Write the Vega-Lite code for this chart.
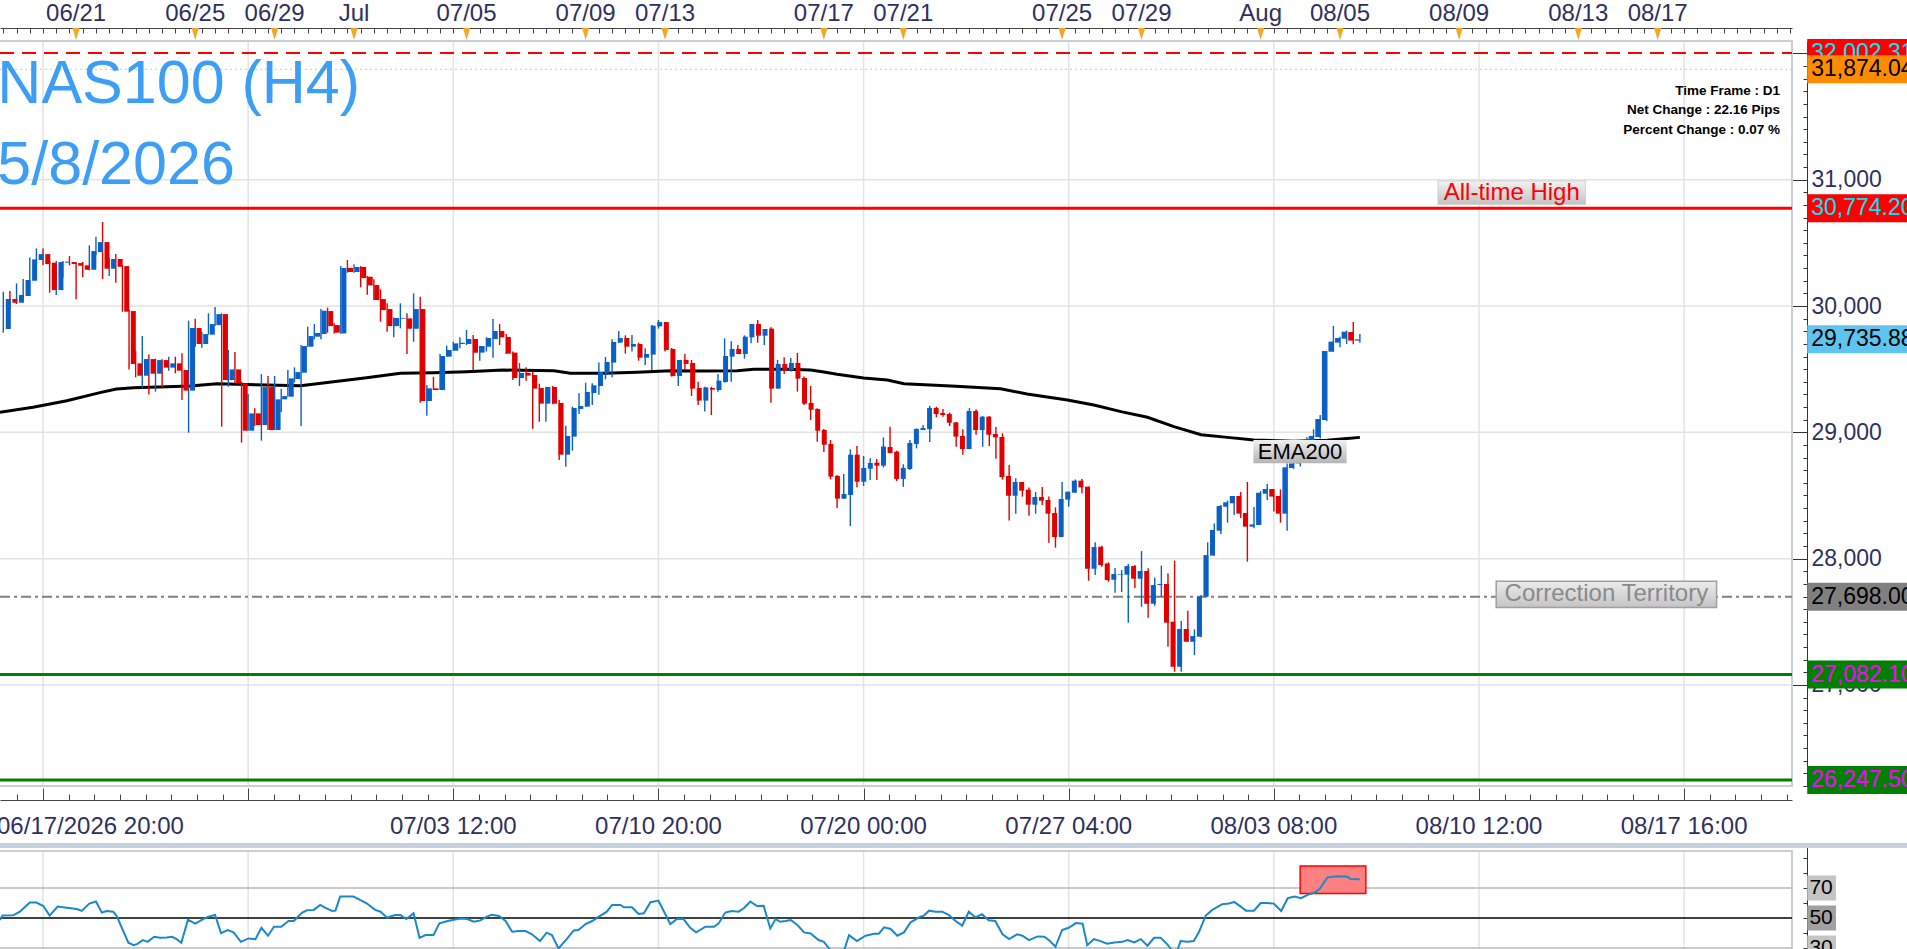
{
  "$schema": "https://vega.github.io/schema/vega-lite/v6.json",
  "width": 1792,
  "height": 745,
  "autosize": {"type": "none"},
  "padding": {"left": 0, "top": 41, "right": 115, "bottom": 163},
  "background": "#ffffff",
  "datasets": {
    "one": [{}],
    "candles": [
      {"i":0,"o":29818,"h":30113,"l":29789,"c":30055},{"i":1,"o":30055,"h":30119,"l":29968,"c":30026},
      {"i":2,"o":30026,"h":30179,"l":30016,"c":30087},{"i":3,"o":30079,"h":30214,"l":30053,"c":30206},
      {"i":4,"o":30200,"h":30385,"l":30079,"c":30369},{"i":5,"o":30364,"h":30456,"l":30332,"c":30411},
      {"i":6,"o":30411,"h":30456,"l":30324,"c":30332},{"i":7,"o":30343,"h":30356,"l":30105,"c":30126},
      {"i":8,"o":30126,"h":30356,"l":30087,"c":30348},{"i":9,"o":30343,"h":30356,"l":30224,"c":30351},
      {"i":10,"o":30348,"h":30396,"l":30322,"c":30332},{"i":11,"o":30340,"h":30343,"l":30053,"c":30319},
      {"i":12,"o":30322,"h":30348,"l":30227,"c":30287},{"i":13,"o":30287,"h":30480,"l":30282,"c":30435},
      {"i":14,"o":30427,"h":30549,"l":30404,"c":30506},{"i":15,"o":30506,"h":30665,"l":30214,"c":30295},
      {"i":16,"o":30295,"h":30382,"l":30237,"c":30372},{"i":17,"o":30372,"h":30411,"l":30185,"c":30311},
      {"i":18,"o":30316,"h":30324,"l":29955,"c":29955},{"i":19,"o":29960,"h":29973,"l":29498,"c":29541},
      {"i":20,"o":29546,"h":29644,"l":29435,"c":29448},{"i":21,"o":29448,"h":29762,"l":29348,"c":29580},
      {"i":22,"o":29580,"h":29617,"l":29300,"c":29464},{"i":23,"o":29464,"h":29583,"l":29322,"c":29572},
      {"i":24,"o":29572,"h":29578,"l":29356,"c":29512},{"i":25,"o":29512,"h":29599,"l":29488,"c":29546},
      {"i":26,"o":29546,"h":29599,"l":29467,"c":29488},{"i":27,"o":29493,"h":29625,"l":29256,"c":29330},
      {"i":28,"o":29330,"h":29884,"l":28997,"c":29826},{"i":29,"o":29826,"h":29900,"l":29678,"c":29699},
      {"i":30,"o":29699,"h":29797,"l":29670,"c":29778},{"i":31,"o":29773,"h":29942,"l":29773,"c":29857},
      {"i":32,"o":29849,"h":29992,"l":29841,"c":29936},{"i":33,"o":29936,"h":29942,"l":29044,"c":29414},
      {"i":34,"o":29414,"h":29652,"l":29361,"c":29498},{"i":35,"o":29498,"h":29636,"l":29388,"c":29388},
      {"i":36,"o":29388,"h":29401,"l":28918,"c":29013},{"i":37,"o":29013,"h":29303,"l":29013,"c":29150},
      {"i":38,"o":29150,"h":29190,"l":29050,"c":29058},{"i":39,"o":29058,"h":29461,"l":28934,"c":29358},
      {"i":40,"o":29358,"h":29446,"l":29018,"c":29018},{"i":41,"o":29018,"h":29446,"l":29018,"c":29261},
      {"i":42,"o":29261,"h":29345,"l":29161,"c":29287},{"i":43,"o":29282,"h":29493,"l":29282,"c":29427},
      {"i":44,"o":29422,"h":29514,"l":29395,"c":29477},{"i":45,"o":29472,"h":29691,"l":29050,"c":29683},
      {"i":46,"o":29678,"h":29836,"l":29678,"c":29762},{"i":47,"o":29757,"h":29857,"l":29736,"c":29786},
      {"i":48,"o":29778,"h":29976,"l":29736,"c":29963},{"i":49,"o":29960,"h":29987,"l":29789,"c":29841},
      {"i":50,"o":29849,"h":29863,"l":29783,"c":29789},{"i":51,"o":29783,"h":30316,"l":29778,"c":30301},
      {"i":52,"o":30301,"h":30364,"l":30264,"c":30269},{"i":53,"o":30269,"h":30330,"l":30264,"c":30309},
      {"i":54,"o":30309,"h":30316,"l":30148,"c":30221},{"i":55,"o":30232,"h":30237,"l":30090,"c":30163},
      {"i":56,"o":30166,"h":30211,"l":30047,"c":30047},{"i":57,"o":30055,"h":30132,"l":29876,"c":29968},
      {"i":58,"o":29976,"h":30021,"l":29797,"c":29841},{"i":59,"o":29841,"h":29910,"l":29752,"c":29905},
      {"i":60,"o":29900,"h":30021,"l":29823,"c":29905},{"i":61,"o":29902,"h":29942,"l":29620,"c":29820},
      {"i":62,"o":29820,"h":30100,"l":29717,"c":29976},{"i":63,"o":29976,"h":30074,"l":29235,"c":29248},
      {"i":64,"o":29248,"h":29374,"l":29132,"c":29348},{"i":65,"o":29348,"h":29440,"l":29335,"c":29335},
      {"i":66,"o":29335,"h":29620,"l":29335,"c":29604},{"i":67,"o":29599,"h":29686,"l":29599,"c":29652},
      {"i":68,"o":29646,"h":29717,"l":29646,"c":29704},{"i":69,"o":29699,"h":29752,"l":29665,"c":29709},
      {"i":70,"o":29699,"h":29810,"l":29691,"c":29739},{"i":71,"o":29739,"h":29770,"l":29493,"c":29630},
      {"i":72,"o":29631,"h":29683,"l":29567,"c":29683},{"i":73,"o":29678,"h":29752,"l":29639,"c":29747},
      {"i":74,"o":29739,"h":29897,"l":29591,"c":29802},{"i":75,"o":29802,"h":29858,"l":29691,"c":29752},
      {"i":76,"o":29755,"h":29778,"l":29620,"c":29623},{"i":77,"o":29631,"h":29639,"l":29414,"c":29430},
      {"i":78,"o":29430,"h":29549,"l":29367,"c":29470},{"i":79,"o":29470,"h":29515,"l":29409,"c":29449},
      {"i":80,"o":29454,"h":29480,"l":29029,"c":29346},{"i":81,"o":29351,"h":29385,"l":29084,"c":29227},
      {"i":82,"o":29227,"h":29359,"l":29084,"c":29359},{"i":83,"o":29359,"h":29367,"l":29222,"c":29227},
      {"i":84,"o":29232,"h":29256,"l":28781,"c":28823},{"i":85,"o":28823,"h":29053,"l":28728,"c":28971},
      {"i":86,"o":28966,"h":29203,"l":28855,"c":29193},{"i":87,"o":29185,"h":29309,"l":29145,"c":29208},
      {"i":88,"o":29203,"h":29393,"l":29203,"c":29319},{"i":89,"o":29311,"h":29388,"l":29216,"c":29372},
      {"i":90,"o":29367,"h":29552,"l":29298,"c":29478},{"i":91,"o":29467,"h":29596,"l":29420,"c":29557},
      {"i":92,"o":29552,"h":29736,"l":29435,"c":29715},{"i":93,"o":29710,"h":29802,"l":29710,"c":29747},
      {"i":94,"o":29747,"h":29768,"l":29623,"c":29678},{"i":95,"o":29678,"h":29771,"l":29639,"c":29699},
      {"i":96,"o":29699,"h":29710,"l":29567,"c":29591},{"i":97,"o":29591,"h":29665,"l":29533,"c":29620},
      {"i":98,"o":29615,"h":29850,"l":29493,"c":29844},{"i":99,"o":29839,"h":29889,"l":29821,"c":29873},
      {"i":100,"o":29873,"h":29873,"l":29639,"c":29652},{"i":101,"o":29660,"h":29668,"l":29441,"c":29446},
      {"i":102,"o":29446,"h":29573,"l":29367,"c":29573},{"i":103,"o":29573,"h":29620,"l":29493,"c":29541},
      {"i":104,"o":29549,"h":29573,"l":29288,"c":29346},{"i":105,"o":29351,"h":29401,"l":29216,"c":29251},
      {"i":106,"o":29251,"h":29361,"l":29164,"c":29356},{"i":107,"o":29351,"h":29361,"l":29137,"c":29338},
      {"i":108,"o":29335,"h":29462,"l":29322,"c":29409},{"i":109,"o":29398,"h":29744,"l":29393,"c":29604},
      {"i":110,"o":29599,"h":29720,"l":29401,"c":29660},{"i":111,"o":29660,"h":29691,"l":29620,"c":29620},
      {"i":112,"o":29620,"h":29768,"l":29583,"c":29757},{"i":113,"o":29752,"h":29858,"l":29705,"c":29858},
      {"i":114,"o":29858,"h":29889,"l":29710,"c":29765},{"i":115,"o":29765,"h":29818,"l":29691,"c":29818},
      {"i":116,"o":29821,"h":29831,"l":29235,"c":29346},{"i":117,"o":29346,"h":29573,"l":29346,"c":29541},
      {"i":118,"o":29541,"h":29594,"l":29462,"c":29493},{"i":119,"o":29493,"h":29588,"l":29480,"c":29549},
      {"i":120,"o":29549,"h":29628,"l":29322,"c":29425},{"i":121,"o":29430,"h":29441,"l":29216,"c":29227},
      {"i":122,"o":29232,"h":29367,"l":29098,"c":29179},{"i":123,"o":29185,"h":29190,"l":28926,"c":29013},
      {"i":124,"o":29018,"h":29026,"l":28844,"c":28902},{"i":125,"o":28908,"h":28939,"l":28628,"c":28649},
      {"i":126,"o":28654,"h":28662,"l":28401,"c":28475},{"i":127,"o":28475,"h":28670,"l":28475,"c":28512},
      {"i":128,"o":28504,"h":28865,"l":28258,"c":28823},{"i":129,"o":28823,"h":28892,"l":28565,"c":28609},
      {"i":130,"o":28609,"h":28813,"l":28575,"c":28718},{"i":131,"o":28712,"h":28794,"l":28623,"c":28757},
      {"i":132,"o":28760,"h":28789,"l":28623,"c":28736},{"i":133,"o":28736,"h":28960,"l":28723,"c":28887},
      {"i":134,"o":28884,"h":29045,"l":28834,"c":28836},{"i":135,"o":28847,"h":28855,"l":28615,"c":28631},
      {"i":136,"o":28631,"h":28747,"l":28570,"c":28718},{"i":137,"o":28710,"h":28939,"l":28702,"c":28916},
      {"i":138,"o":28908,"h":29032,"l":28873,"c":29026},{"i":139,"o":29018,"h":29058,"l":29018,"c":29034},
      {"i":140,"o":29026,"h":29208,"l":28923,"c":29193},{"i":141,"o":29193,"h":29203,"l":29119,"c":29145},
      {"i":142,"o":29153,"h":29185,"l":29124,"c":29137},{"i":143,"o":29145,"h":29156,"l":29050,"c":29076},
      {"i":144,"o":29079,"h":29079,"l":28886,"c":28966},{"i":145,"o":28971,"h":29024,"l":28823,"c":28868},
      {"i":146,"o":28868,"h":29192,"l":28868,"c":29169},{"i":147,"o":29169,"h":29182,"l":28981,"c":29018},
      {"i":148,"o":29018,"h":29129,"l":28886,"c":29124},{"i":149,"o":29124,"h":29129,"l":28891,"c":28981},
      {"i":150,"o":28987,"h":29042,"l":28791,"c":28960},{"i":151,"o":28963,"h":28992,"l":28625,"c":28646},
      {"i":152,"o":28654,"h":28741,"l":28301,"c":28498},{"i":153,"o":28498,"h":28636,"l":28356,"c":28607},
      {"i":154,"o":28607,"h":28607,"l":28491,"c":28538},{"i":155,"o":28546,"h":28564,"l":28340,"c":28427},
      {"i":156,"o":28427,"h":28528,"l":28356,"c":28488},{"i":157,"o":28488,"h":28567,"l":28425,"c":28459},
      {"i":158,"o":28464,"h":28491,"l":28126,"c":28356},{"i":159,"o":28361,"h":28406,"l":28087,"c":28171},
      {"i":160,"o":28171,"h":28607,"l":28171,"c":28472},{"i":161,"o":28467,"h":28530,"l":28411,"c":28530},
      {"i":162,"o":28522,"h":28627,"l":28522,"c":28617},{"i":163,"o":28617,"h":28630,"l":28517,"c":28564},
      {"i":164,"o":28570,"h":28570,"l":27825,"c":27920},{"i":165,"o":27920,"h":28129,"l":27870,"c":28092},
      {"i":166,"o":28094,"h":28102,"l":27936,"c":27949},{"i":167,"o":27962,"h":27970,"l":27817,"c":27830},
      {"i":168,"o":27833,"h":27925,"l":27730,"c":27878},{"i":169,"o":27873,"h":27910,"l":27735,"c":27878},
      {"i":170,"o":27873,"h":27957,"l":27493,"c":27941},{"i":171,"o":27941,"h":27949,"l":27767,"c":27841},
      {"i":172,"o":27841,"h":28060,"l":27619,"c":27902},{"i":173,"o":27902,"h":27923,"l":27532,"c":27643},
      {"i":174,"o":27643,"h":27849,"l":27627,"c":27791},{"i":175,"o":27791,"h":27945,"l":27699,"c":27799},
      {"i":176,"o":27799,"h":27883,"l":27303,"c":27493},{"i":177,"o":27501,"h":27984,"l":27105,"c":27144},
      {"i":178,"o":27144,"h":27506,"l":27105,"c":27443},{"i":179,"o":27443,"h":27588,"l":27342,"c":27342},
      {"i":180,"o":27342,"h":27440,"l":27237,"c":27387},{"i":181,"o":27382,"h":27712,"l":27377,"c":27699},
      {"i":182,"o":27699,"h":28129,"l":27699,"c":28028},{"i":183,"o":28024,"h":28279,"l":28024,"c":28227},
      {"i":184,"o":28221,"h":28425,"l":28195,"c":28417},{"i":185,"o":28411,"h":28459,"l":28285,"c":28446},
      {"i":186,"o":28438,"h":28496,"l":28345,"c":28496},{"i":187,"o":28496,"h":28528,"l":28322,"c":28356},
      {"i":188,"o":28361,"h":28607,"l":27976,"c":28253},{"i":189,"o":28253,"h":28409,"l":28240,"c":28271},
      {"i":190,"o":28266,"h":28535,"l":28266,"c":28522},{"i":191,"o":28514,"h":28591,"l":28464,"c":28551},
      {"i":192,"o":28551,"h":28551,"l":28374,"c":28491},{"i":193,"o":28496,"h":28548,"l":28285,"c":28356},
      {"i":194,"o":28356,"h":28754,"l":28221,"c":28723},{"i":195,"o":28717,"h":28794,"l":28712,"c":28754},
      {"i":196,"o":28754,"h":28830,"l":28730,"c":28800},{"i":197,"o":28800,"h":28960,"l":28780,"c":28940},
      {"i":198,"o":28940,"h":29024,"l":28920,"c":28971},{"i":199,"o":28963,"h":29137,"l":28952,"c":29105},
      {"i":200,"o":29097,"h":29644,"l":29089,"c":29644},{"i":201,"o":29638,"h":29842,"l":29638,"c":29718},
      {"i":202,"o":29710,"h":29757,"l":29673,"c":29747},{"i":203,"o":29741,"h":29805,"l":29699,"c":29797},
      {"i":204,"o":29794,"h":29873,"l":29697,"c":29726},{"i":205,"o":29726,"h":29778,"l":29710,"c":29736}
    ],
    "ema": [
      {"i":-0.5,"v":29158},{"i":4.5,"v":29198},{"i":9.6,"v":29250},{"i":14.6,"v":29314},{"i":17.1,"v":29343},
      {"i":19.7,"v":29353},{"i":24.7,"v":29361},{"i":28.2,"v":29366},{"i":32.3,"v":29385},{"i":39.8,"v":29374},
      {"i":44.9,"v":29369},{"i":49.9,"v":29401},{"i":54.9,"v":29432},{"i":60,"v":29467},{"i":65,"v":29472},
      {"i":70,"v":29480},{"i":75.6,"v":29493},{"i":83.2,"v":29488},{"i":85.7,"v":29467},{"i":90.7,"v":29467},
      {"i":95.8,"v":29475},{"i":100.8,"v":29488},{"i":105.9,"v":29486},{"i":110.9,"v":29488},{"i":113.4,"v":29499},
      {"i":118.5,"v":29499},{"i":122,"v":29493},{"i":124,"v":29478},{"i":126,"v":29459},{"i":130,"v":29430},
      {"i":133.6,"v":29414},{"i":136.1,"v":29385},{"i":143.2,"v":29367},{"i":146.7,"v":29356},{"i":150.7,"v":29345},
      {"i":154.7,"v":29303},{"i":160.8,"v":29256},{"i":164.8,"v":29216},{"i":168.9,"v":29164},{"i":172.9,"v":29119},
      {"i":176.9,"v":29045},{"i":181,"v":28981},{"i":185,"v":28960},{"i":189,"v":28939},{"i":195,"v":28930},
      {"i":200,"v":28938},{"i":203.1,"v":28952},{"i":205,"v":28960}
    ],
    "rsi": [
      {"i":-0.5,"v":48.7},{"i":-0.1,"v":51.6},{"i":1.5,"v":51.8},{"i":2.5,"v":54.2},{"i":4.0,"v":60.3},
      {"i":5.0,"v":60.3},{"i":6.05,"v":58.0},{"i":7.0,"v":51.6},{"i":8.2,"v":57.6},{"i":9.6,"v":56.9},
      {"i":11.1,"v":56.0},{"i":11.85,"v":54.7},{"i":13.0,"v":59.6},{"i":14.0,"v":61.0},{"i":14.9,"v":53.6},
      {"i":15.6,"v":54.7},{"i":16.6,"v":54.2},{"i":17.1,"v":51.6},{"i":18.9,"v":33.5},{"i":19.7,"v":31.9},
      {"i":20.2,"v":32.6},{"i":21.1,"v":35.3},{"i":21.8,"v":34.1},{"i":22.8,"v":37.5},{"i":23.7,"v":36.8},
      {"i":24.7,"v":37.0},{"i":25.5,"v":37.5},{"i":26.2,"v":35.9},{"i":26.9,"v":33.5},{"i":27.9,"v":48.9},
      {"i":29.0,"v":46.2},{"i":30.2,"v":49.3},{"i":31.0,"v":50.9},{"i":32.0,"v":52.0},{"i":32.9,"v":39.9},
      {"i":33.9,"v":42.0},{"i":34.8,"v":40.4},{"i":35.9,"v":34.1},{"i":37.05,"v":36.4},{"i":38.1,"v":35.9},
      {"i":39.0,"v":43.5},{"i":40.0,"v":38.2},{"i":40.9,"v":44.2},{"i":42.0,"v":44.2},{"i":43.1,"v":48.0},
      {"i":43.9,"v":48.0},{"i":45.1,"v":53.4},{"i":45.9,"v":55.1},{"i":46.9,"v":55.4},{"i":47.9,"v":58.7},
      {"i":48.6,"v":56.9},{"i":49.7,"v":54.7},{"i":50.2,"v":54.9},{"i":50.9,"v":64.3},{"i":52.9,"v":64.3},
      {"i":53.9,"v":62.1},{"i":54.9,"v":59.8},{"i":56.2,"v":55.4},{"i":57.0,"v":54.2},{"i":58.0,"v":50.2},
      {"i":59.2,"v":52.0},{"i":60.0,"v":52.0},{"i":60.9,"v":49.3},{"i":62.0,"v":53.1},{"i":62.9,"v":36.8},
      {"i":63.8,"v":38.6},{"i":65.0,"v":38.6},{"i":65.9,"v":46.4},{"i":67.3,"v":48.2},{"i":69.1,"v":49.6},
      {"i":70.1,"v":49.3},{"i":71.1,"v":47.5},{"i":72.1,"v":48.4},{"i":73.1,"v":50.9},{"i":73.8,"v":52.2},
      {"i":74.9,"v":51.3},{"i":75.9,"v":48.0},{"i":76.9,"v":40.8},{"i":77.9,"v":41.3},{"i":78.9,"v":41.3},
      {"i":79.9,"v":39.1},{"i":81.1,"v":34.6},{"i":82.1,"v":40.2},{"i":82.9,"v":38.6},{"i":83.9,"v":29.7},
      {"i":85.1,"v":35.7},{"i":86.2,"v":41.7},{"i":86.9,"v":42.0},{"i":88.0,"v":46.0},{"i":89.0,"v":48.0},
      {"i":90.0,"v":50.9},{"i":91.2,"v":54.2},{"i":92.0,"v":58.7},{"i":93.25,"v":58.7},{"i":93.8,"v":57.1},
      {"i":95.0,"v":57.1},{"i":96.0,"v":52.7},{"i":96.8,"v":53.1},{"i":97.8,"v":60.5},{"i":99.0,"v":61.6},
      {"i":100.1,"v":52.0},{"i":100.8,"v":45.9},{"i":101.8,"v":49.3},{"i":102.8,"v":49.3},{"i":103.8,"v":43.5},
      {"i":104.7,"v":40.4},{"i":106.1,"v":44.2},{"i":107.4,"v":44.2},{"i":108.1,"v":46.4},{"i":109.1,"v":53.6},
      {"i":110.1,"v":54.7},{"i":111.1,"v":54.2},{"i":111.9,"v":56.5},{"i":112.9,"v":60.9},{"i":113.9,"v":58.0},
      {"i":114.9,"v":58.2},{"i":115.9,"v":43.0},{"i":116.7,"v":49.3},{"i":117.4,"v":47.5},{"i":118.2,"v":48.0},
      {"i":119.0,"v":48.7},{"i":120.0,"v":45.3},{"i":121.0,"v":40.4},{"i":122.0,"v":39.7},{"i":123.2,"v":35.3},
      {"i":124.0,"v":34.1},{"i":125.0,"v":28.5},{"i":126.0,"v":26.5},{"i":127.0,"v":27.5},{"i":127.8,"v":38.6},
      {"i":129.0,"v":34.6},{"i":130.3,"v":38.2},{"i":131.6,"v":39.5},{"i":132.3,"v":39.5},{"i":133.1,"v":43.8},
      {"i":134.1,"v":42.7},{"i":135.1,"v":38.2},{"i":136.1,"v":40.4},{"i":137.1,"v":47.1},{"i":138.6,"v":50.9},
      {"i":139.1,"v":51.6},{"i":139.9,"v":54.9},{"i":140.9,"v":54.2},{"i":141.9,"v":54.2},{"i":142.9,"v":52.0},
      {"i":143.9,"v":48.0},{"i":144.9,"v":44.9},{"i":145.9,"v":54.2},{"i":146.9,"v":50.4},{"i":147.9,"v":52.5},
      {"i":148.9,"v":48.5},{"i":149.9,"v":48.0},{"i":151.0,"v":39.1},{"i":152.0,"v":36.0},{"i":153.2,"v":39.1},
      {"i":154.0,"v":38.2},{"i":155.0,"v":35.3},{"i":156.3,"v":37.7},{"i":157.3,"v":37.5},{"i":158.0,"v":35.3},
      {"i":159.0,"v":30.8},{"i":160.0,"v":42.0},{"i":161.0,"v":43.5},{"i":162.1,"v":46.6},{"i":163.1,"v":46.2},
      {"i":163.8,"v":31.9},{"i":164.8,"v":35.9},{"i":165.8,"v":34.6},{"i":166.8,"v":32.8},{"i":167.9,"v":33.7},
      {"i":169.1,"v":34.1},{"i":169.9,"v":35.3},{"i":170.9,"v":33.7},{"i":171.9,"v":35.9},{"i":172.9,"v":31.5},
      {"i":173.9,"v":36.8},{"i":174.9,"v":36.8},{"i":175.9,"v":32.4},{"i":176.7,"v":28.0},{"i":177.4,"v":28.0},
      {"i":177.9,"v":34.6},{"i":178.9,"v":34.1},{"i":179.9,"v":34.6},{"i":180.7,"v":40.8},{"i":181.7,"v":51.6},
      {"i":182.7,"v":55.4},{"i":184.2,"v":59.2},{"i":185.2,"v":59.6},{"i":186.0,"v":60.7},{"i":187.0,"v":57.6},
      {"i":187.8,"v":54.9},{"i":189.0,"v":54.9},{"i":190.0,"v":60.0},{"i":191.0,"v":60.0},{"i":192.0,"v":59.6},
      {"i":193.1,"v":54.7},{"i":194.1,"v":63.2},{"i":195.1,"v":64.3},{"i":196.1,"v":63.2},{"i":197.1,"v":65.4},
      {"i":198.1,"v":66.8},{"i":198.9,"v":69.3},{"i":200.1,"v":77.1},{"i":201.6,"v":77.8},{"i":203.1,"v":77.5},
      {"i":203.6,"v":76.0},{"i":205.0,"v":75.8}
    ],
    "levels": [
      {"name":"Resistance","v":32002.31},
      {"name":"Target","v":31874.04},
      {"name":"All-time High","v":30774.20},
      {"name":"Last","v":29735.88},
      {"name":"Correction Territory","v":27698.00},
      {"name":"Support","v":27082.10},
      {"name":"Support 2","v":26247.50}
    ],
    "priceGrid": [{"p":27000},{"p":28000},{"p":29000},{"p":30000},{"p":31000}],
    "grid": [{"g":6},{"g":37},{"g":68},{"g":99},{"g":130},{"g":161},{"g":192},{"g":223},{"g":254}],
    "rsiLevels": [{"v":70},{"v":50},{"v":30}],
    "topDates": [
      {"i":11,"label":"06/21"},{"i":29,"label":"06/25"},{"i":41,"label":"06/29"},{"i":53,"label":"Jul"},
      {"i":70,"label":"07/05"},{"i":88,"label":"07/09"},{"i":100,"label":"07/13"},{"i":124,"label":"07/17"},
      {"i":136,"label":"07/21"},{"i":160,"label":"07/25"},{"i":172,"label":"07/29"},{"i":190,"label":"Aug"},
      {"i":202,"label":"08/05"},{"i":220,"label":"08/09"},{"i":238,"label":"08/13"},{"i":250,"label":"08/17"}
    ],
    "bottomDates": [
      {"i":68,"label":"07/03 12:00"},{"i":99,"label":"07/10 20:00"},{"i":130,"label":"07/20 00:00"},
      {"i":161,"label":"07/27 04:00"},{"i":192,"label":"08/03 08:00"},{"i":223,"label":"08/10 12:00"},
      {"i":254,"label":"08/17 16:00"}
    ]
  },
  "layer": [
    {
      "data": {"name": "priceGrid"},
      "mark": {"type": "rule", "color": "#e3e3e3", "strokeWidth": 1.5},
      "encoding": {
        "x": {"datum": -0.5, "type": "quantitative", "scale": {"domain": [-0.5, 270.3], "nice": false, "zero": false}, "axis": null},
        "x2": {"datum": 270.3},
        "y": {"field": "p", "type": "quantitative", "scale": {"domain": [26200, 32098], "nice": false, "zero": false},
          "axis": {"orient": "right", "offset": 15, "values": [27000, 28000, 29000, 30000, 31000, 32000], "format": ",d",
            "tickSize": -15, "labelPadding": 19, "labelFont": "Liberation Sans", "labelFontSize": 23, "labelColor": "#303060",
            "labelAlign": "left", "labelBaseline": "middle", "domainColor": "#333333", "tickColor": "#333333",
            "grid": false, "title": null, "labelOverlap": false, "labelFlush": false}}
      }
    },
    {
      "data": {"name": "grid"},
      "mark": {"type": "rule", "color": "#e3e3e3", "strokeWidth": 1.5},
      "encoding": {
        "x": {"field": "g", "type": "quantitative", "scale": {"domain": [-0.5, 270.3], "nice": false, "zero": false},
          "axis": {"orient": "bottom", "offset": 14, "values": [6, 37, 68, 99, 130, 161, 192, 223, 254], "tickSize": -12,
            "labels": false, "domainColor": "#444444", "tickColor": "#444444", "grid": false, "title": null}},
        "y": {"datum": 26200, "type": "quantitative", "scale": {"domain": [26200, 32098], "nice": false, "zero": false},
          "axis": {"orient": "right", "offset": 15, "tickCount": 59, "tickSize": -4, "labels": false, "domain": false,
            "tickColor": "#333333", "grid": false, "title": null}},
        "y2": {"datum": 32098}
      }
    },
    {
      "data": {"name": "grid"},
      "mark": {"type": "rule", "color": "#e3e3e3", "strokeWidth": 1.5},
      "encoding": {
        "x": {"field": "g", "type": "quantitative", "scale": {"domain": [-0.5, 270.3], "nice": false, "zero": false}, "axis": null},
        "y": {"datum": 0, "type": "quantitative", "scale": {"domain": [0, 100], "range": [952, 802], "nice": false, "zero": false},
          "axis": {"orient": "right", "offset": 15, "values": [30, 40, 50, 60, 70, 80, 90], "tickSize": -4, "labels": false,
            "domainColor": "#333333", "tickColor": "#333333", "grid": false, "title": null}},
        "y2": {"datum": 94.7}
      }
    },
    {
      "data": {"name": "one"},
      "mark": {"type": "rect", "fillOpacity": 0, "stroke": "#c8cfd8", "strokeWidth": 2},
      "encoding": {
        "x": {"datum": -1.2, "type": "quantitative", "scale": {"domain": [-0.5, 270.3], "nice": false, "zero": false}, "axis": null},
        "x2": {"datum": 270.3},
        "y": {"datum": 26200, "type": "quantitative", "scale": {"domain": [26200, 32098], "nice": false, "zero": false}, "axis": null},
        "y2": {"datum": 32098}
      }
    },
    {
      "data": {"name": "one"},
      "mark": {"type": "rect", "fillOpacity": 0, "stroke": "#c8cfd8", "strokeWidth": 2},
      "encoding": {
        "x": {"datum": -1.2, "type": "quantitative", "scale": {"domain": [-0.5, 270.3], "nice": false, "zero": false}, "axis": null},
        "x2": {"datum": 270.3},
        "y": {"datum": 0, "type": "quantitative", "scale": {"domain": [0, 100], "range": [952, 802], "nice": false, "zero": false}, "axis": null},
        "y2": {"datum": 94.7}
      }
    },
    {
      "data": {"name": "one"},
      "mark": {"type": "rule", "color": "#c7d1dd", "strokeWidth": 5},
      "encoding": {
        "x": {"datum": -1.2, "type": "quantitative", "scale": {"domain": [-0.5, 270.3], "nice": false, "zero": false}, "axis": null},
        "x2": {"datum": 290},
        "y": {"datum": 98.3, "type": "quantitative", "scale": {"domain": [0, 100], "range": [952, 802], "nice": false, "zero": false}, "axis": null}
      }
    },
    {
      "data": {"name": "levels"},
      "transform": [{"filter": "datum.name == 'Resistance'"}],
      "mark": {"type": "rule", "color": "#ff0000", "strokeWidth": 2, "strokeDash": [14, 8]},
      "encoding": {
        "x": {"datum": -0.5, "type": "quantitative", "scale": {"domain": [-0.5, 270.3], "nice": false, "zero": false}, "axis": null},
        "x2": {"datum": 270.3},
        "y": {"field": "v", "type": "quantitative", "scale": {"domain": [26200, 32098], "nice": false, "zero": false}, "axis": null}
      }
    },
    {
      "data": {"name": "levels"},
      "transform": [{"filter": "datum.name == 'Target'"}],
      "mark": {"type": "rule", "color": "#c8c8c8", "strokeWidth": 1, "strokeDash": [2, 3]},
      "encoding": {
        "x": {"datum": -0.5, "type": "quantitative", "scale": {"domain": [-0.5, 270.3], "nice": false, "zero": false}, "axis": null},
        "x2": {"datum": 270.3},
        "y": {"field": "v", "type": "quantitative", "scale": {"domain": [26200, 32098], "nice": false, "zero": false}, "axis": null}
      }
    },
    {
      "data": {"name": "levels"},
      "transform": [{"filter": "datum.name == 'All-time High'"}],
      "mark": {"type": "rule", "color": "#ff0000", "strokeWidth": 3},
      "encoding": {
        "x": {"datum": -0.5, "type": "quantitative", "scale": {"domain": [-0.5, 270.3], "nice": false, "zero": false}, "axis": null},
        "x2": {"datum": 270.3},
        "y": {"field": "v", "type": "quantitative", "scale": {"domain": [26200, 32098], "nice": false, "zero": false}, "axis": null}
      }
    },
    {
      "data": {"name": "levels"},
      "transform": [{"filter": "datum.name == 'Correction Territory'"}],
      "mark": {"type": "rule", "color": "#808080", "strokeWidth": 2, "strokeDash": [10, 4, 3, 4]},
      "encoding": {
        "x": {"datum": -0.5, "type": "quantitative", "scale": {"domain": [-0.5, 270.3], "nice": false, "zero": false}, "axis": null},
        "x2": {"datum": 270.3},
        "y": {"field": "v", "type": "quantitative", "scale": {"domain": [26200, 32098], "nice": false, "zero": false}, "axis": null}
      }
    },
    {
      "data": {"name": "levels"},
      "transform": [{"filter": "datum.name == 'Support' || datum.name == 'Support 2'"}],
      "mark": {"type": "rule", "color": "#008000", "strokeWidth": 3},
      "encoding": {
        "x": {"datum": -0.5, "type": "quantitative", "scale": {"domain": [-0.5, 270.3], "nice": false, "zero": false}, "axis": null},
        "x2": {"datum": 270.3},
        "y": {"field": "v", "type": "quantitative", "scale": {"domain": [26200, 32098], "nice": false, "zero": false}, "axis": null}
      }
    },
    {
      "data": {"name": "one"},
      "mark": {"type": "rect", "stroke": "#d0d0d0", "strokeWidth": 1,
        "fill": {"gradient": "linear", "x1": 0, "y1": 0, "x2": 0, "y2": 1, "stops": [{"offset": 0, "color": "#f2f2f2"}, {"offset": 1, "color": "#c2c2c2"}]}},
      "encoding": {
        "x": {"datum": 216.8, "type": "quantitative", "scale": {"domain": [-0.5, 270.3], "nice": false, "zero": false}, "axis": null},
        "x2": {"datum": 239.1},
        "y": {"datum": 30803, "type": "quantitative", "scale": {"domain": [26200, 32098], "nice": false, "zero": false}, "axis": null},
        "y2": {"datum": 30990}
      }
    },
    {
      "data": {"name": "one"},
      "mark": {"type": "text", "text": "All-time High", "font": "Liberation Sans", "fontSize": 24, "color": "#ff0000", "align": "center", "baseline": "middle"},
      "encoding": {
        "x": {"datum": 227.95, "type": "quantitative", "scale": {"domain": [-0.5, 270.3], "nice": false, "zero": false}, "axis": null},
        "y": {"datum": 30897, "type": "quantitative", "scale": {"domain": [26200, 32098], "nice": false, "zero": false}, "axis": null}
      }
    },
    {
      "data": {"name": "one"},
      "mark": {"type": "rect", "stroke": "#a0a0a0", "strokeWidth": 1.5,
        "fill": {"gradient": "linear", "x1": 0, "y1": 0, "x2": 0, "y2": 1, "stops": [{"offset": 0, "color": "#ececec"}, {"offset": 1, "color": "#c4c4c4"}]}},
      "encoding": {
        "x": {"datum": 225.6, "type": "quantitative", "scale": {"domain": [-0.5, 270.3], "nice": false, "zero": false}, "axis": null},
        "x2": {"datum": 258.9},
        "y": {"datum": 27614, "type": "quantitative", "scale": {"domain": [26200, 32098], "nice": false, "zero": false}, "axis": null},
        "y2": {"datum": 27821}
      }
    },
    {
      "data": {"name": "one"},
      "mark": {"type": "text", "text": "Correction Territory", "font": "Liberation Sans", "fontSize": 24, "color": "#8a8a8a", "align": "center", "baseline": "middle"},
      "encoding": {
        "x": {"datum": 242.25, "type": "quantitative", "scale": {"domain": [-0.5, 270.3], "nice": false, "zero": false}, "axis": null},
        "y": {"datum": 27717, "type": "quantitative", "scale": {"domain": [26200, 32098], "nice": false, "zero": false}, "axis": null}
      }
    },
    {
      "data": {"name": "ema"},
      "mark": {"type": "line", "color": "#000000", "strokeWidth": 3},
      "encoding": {
        "x": {"field": "i", "type": "quantitative", "scale": {"domain": [-0.5, 270.3], "nice": false, "zero": false}, "axis": null},
        "y": {"field": "v", "type": "quantitative", "scale": {"domain": [26200, 32098], "nice": false, "zero": false}, "axis": null}
      }
    },
    {
      "data": {"name": "candles"},
      "mark": {"type": "rule", "strokeWidth": 1.4},
      "encoding": {
        "x": {"field": "i", "type": "quantitative", "scale": {"domain": [-0.5, 270.3], "nice": false, "zero": false}, "axis": null},
        "y": {"field": "l", "type": "quantitative", "scale": {"domain": [26200, 32098], "nice": false, "zero": false}, "axis": null},
        "y2": {"field": "h"},
        "color": {"condition": {"test": "datum.c >= datum.o", "value": "#0a60c4"}, "value": "#e00000"}
      }
    },
    {
      "data": {"name": "candles"},
      "mark": {"type": "bar", "size": 5},
      "encoding": {
        "x": {"field": "i", "type": "quantitative", "scale": {"domain": [-0.5, 270.3], "nice": false, "zero": false}, "axis": null},
        "y": {"field": "o", "type": "quantitative", "scale": {"domain": [26200, 32098], "nice": false, "zero": false}, "axis": null},
        "y2": {"field": "c"},
        "color": {"condition": {"test": "datum.c >= datum.o", "value": "#0a60c4"}, "value": "#e00000"}
      }
    },
    {
      "data": {"name": "one"},
      "mark": {"type": "rect",
        "fill": {"gradient": "linear", "x1": 0, "y1": 0, "x2": 0, "y2": 1, "stops": [{"offset": 0, "color": "#f0f0f0"}, {"offset": 1, "color": "#b4b4b4"}]}},
      "encoding": {
        "x": {"datum": 188.9, "type": "quantitative", "scale": {"domain": [-0.5, 270.3], "nice": false, "zero": false}, "axis": null},
        "x2": {"datum": 203.0},
        "y": {"datum": 28755, "type": "quantitative", "scale": {"domain": [26200, 32098], "nice": false, "zero": false}, "axis": null},
        "y2": {"datum": 28939}
      }
    },
    {
      "data": {"name": "one"},
      "mark": {"type": "text", "text": "EMA200", "font": "Liberation Sans", "fontSize": 22, "color": "#000000", "align": "center", "baseline": "middle"},
      "encoding": {
        "x": {"datum": 195.95, "type": "quantitative", "scale": {"domain": [-0.5, 270.3], "nice": false, "zero": false}, "axis": null},
        "y": {"datum": 28846, "type": "quantitative", "scale": {"domain": [26200, 32098], "nice": false, "zero": false}, "axis": null}
      }
    },
    {
      "data": {"name": "rsiLevels"},
      "mark": {"type": "rule", "strokeWidth": 1.5},
      "encoding": {
        "x": {"datum": -0.5, "type": "quantitative", "scale": {"domain": [-0.5, 270.3], "nice": false, "zero": false}, "axis": null},
        "x2": {"datum": 270.3},
        "y": {"field": "v", "type": "quantitative", "scale": {"domain": [0, 100], "range": [952, 802], "nice": false, "zero": false}, "axis": null},
        "color": {"condition": {"test": "datum.v == 50", "value": "#000000"}, "value": "#b8b8b8"}
      }
    },
    {
      "data": {"name": "one"},
      "mark": {"type": "rect", "fill": "#ff8080", "stroke": "#ff0000", "strokeWidth": 1.5},
      "encoding": {
        "x": {"datum": 195.97, "type": "quantitative", "scale": {"domain": [-0.5, 270.3], "nice": false, "zero": false}, "axis": null},
        "x2": {"datum": 205.9},
        "y": {"datum": 66.3, "type": "quantitative", "scale": {"domain": [0, 100], "range": [952, 802], "nice": false, "zero": false}, "axis": null},
        "y2": {"datum": 84.6}
      }
    },
    {
      "data": {"name": "rsi"},
      "mark": {"type": "line", "color": "#1a88c9", "strokeWidth": 2},
      "encoding": {
        "x": {"field": "i", "type": "quantitative", "scale": {"domain": [-0.5, 270.3], "nice": false, "zero": false}, "axis": null},
        "y": {"field": "v", "type": "quantitative", "scale": {"domain": [0, 100], "range": [952, 802], "nice": false, "zero": false}, "axis": null}
      }
    },
    {
      "data": {"name": "levels"},
      "transform": [{"filter": "datum.name == 'Resistance'"}],
      "mark": {"type": "point", "shape": "M0,-1H7.2V1H0Z", "size": 784, "filled": true, "opacity": 1, "color": "#ff0000"},
      "encoding": {
        "x": {"datum": 272.6, "type": "quantitative", "scale": {"domain": [-0.5, 270.3], "nice": false, "zero": false}, "axis": null},
        "y": {"field": "v", "type": "quantitative", "scale": {"domain": [26200, 32098], "nice": false, "zero": false}, "axis": null}
      }
    },
    {
      "data": {"name": "levels"},
      "transform": [{"filter": "datum.name == 'Resistance'"}],
      "mark": {"type": "text", "font": "Liberation Sans", "fontSize": 23, "align": "left", "baseline": "middle", "color": "#00e5ff"},
      "encoding": {
        "x": {"datum": 273.2, "type": "quantitative", "scale": {"domain": [-0.5, 270.3], "nice": false, "zero": false}, "axis": null},
        "y": {"field": "v", "type": "quantitative", "scale": {"domain": [26200, 32098], "nice": false, "zero": false}, "axis": null},
        "text": {"field": "v", "type": "quantitative", "format": ",.2f"}
      }
    },
    {
      "data": {"name": "levels"},
      "transform": [{"filter": "datum.name != 'Resistance'"}],
      "mark": {"type": "point", "shape": "M0,-1H7.2V1H0Z", "size": 784, "filled": true, "opacity": 1},
      "encoding": {
        "x": {"datum": 272.6, "type": "quantitative", "scale": {"domain": [-0.5, 270.3], "nice": false, "zero": false}, "axis": null},
        "y": {"field": "v", "type": "quantitative", "scale": {"domain": [26200, 32098], "nice": false, "zero": false}, "axis": null},
        "color": {"field": "name", "type": "nominal", "legend": null,
          "scale": {"domain": ["Target", "All-time High", "Last", "Correction Territory", "Support", "Support 2"],
            "range": ["#ff8c00", "#ff0000", "#5ec4f0", "#808080", "#008000", "#008000"]}}
      }
    },
    {
      "data": {"name": "levels"},
      "transform": [{"filter": "datum.name != 'Resistance'"}],
      "mark": {"type": "text", "font": "Liberation Sans", "fontSize": 23, "align": "left", "baseline": "middle"},
      "encoding": {
        "x": {"datum": 273.2, "type": "quantitative", "scale": {"domain": [-0.5, 270.3], "nice": false, "zero": false}, "axis": null},
        "y": {"field": "v", "type": "quantitative", "scale": {"domain": [26200, 32098], "nice": false, "zero": false}, "axis": null},
        "text": {"field": "v", "type": "quantitative", "format": ",.2f"},
        "color": {"field": "name", "type": "nominal", "legend": null,
          "scale": {"domain": ["Target", "All-time High", "Last", "Correction Territory", "Support", "Support 2"],
            "range": ["#000000", "#00e5ff", "#000000", "#000000", "#ff00ff", "#ff00ff"]}}
      }
    },
    {
      "data": {"name": "rsiLevels"},
      "mark": {"type": "point", "shape": "M0,-1H2.3V1H0Z", "size": 625, "filled": true, "opacity": 1},
      "encoding": {
        "x": {"datum": 272.6, "type": "quantitative", "scale": {"domain": [-0.5, 270.3], "nice": false, "zero": false}, "axis": null},
        "y": {"field": "v", "type": "quantitative", "scale": {"domain": [0, 100], "range": [952, 802], "nice": false, "zero": false}, "axis": null},
        "color": {"condition": {"test": "datum.v == 50", "value": "#a0a0a0"}, "value": "#c4c4c4"}
      }
    },
    {
      "data": {"name": "rsiLevels"},
      "mark": {"type": "text", "font": "Liberation Sans", "fontSize": 21, "align": "center", "baseline": "middle", "color": "#000000"},
      "encoding": {
        "x": {"datum": 274.7, "type": "quantitative", "scale": {"domain": [-0.5, 270.3], "nice": false, "zero": false}, "axis": null},
        "y": {"field": "v", "type": "quantitative", "scale": {"domain": [0, 100], "range": [952, 802], "nice": false, "zero": false}, "axis": null},
        "text": {"field": "v", "type": "quantitative"}
      }
    },
    {
      "data": {"name": "one"},
      "mark": {"type": "text", "text": "NAS100 (H4)", "font": "Liberation Sans Narrow, Liberation Sans", "fontSize": 61, "color": "#3d9ef5", "align": "left", "baseline": "alphabetic"},
      "encoding": {
        "x": {"datum": -0.9, "type": "quantitative", "scale": {"domain": [-0.5, 270.3], "nice": false, "zero": false}, "axis": null},
        "y": {"datum": 31605, "type": "quantitative", "scale": {"domain": [26200, 32098], "nice": false, "zero": false}, "axis": null}
      }
    },
    {
      "data": {"name": "one"},
      "mark": {"type": "text", "text": "5/8/2026", "font": "Liberation Sans Narrow, Liberation Sans", "fontSize": 61, "color": "#3d9ef5", "align": "left", "baseline": "alphabetic"},
      "encoding": {
        "x": {"datum": -0.9, "type": "quantitative", "scale": {"domain": [-0.5, 270.3], "nice": false, "zero": false}, "axis": null},
        "y": {"datum": 30962, "type": "quantitative", "scale": {"domain": [26200, 32098], "nice": false, "zero": false}, "axis": null}
      }
    },
    {
      "data": {"name": "one"},
      "mark": {"type": "text", "text": ["Time Frame : D1", "Net Change : 22.16 Pips", "Percent Change : 0.07 %"],
        "font": "Liberation Sans", "fontSize": 13.5, "fontWeight": "bold", "lineHeight": 19.7, "color": "#000000", "align": "right", "baseline": "middle"},
      "encoding": {
        "x": {"datum": 268.5, "type": "quantitative", "scale": {"domain": [-0.5, 270.3], "nice": false, "zero": false}, "axis": null},
        "y": {"datum": 31705, "type": "quantitative", "scale": {"domain": [26200, 32098], "nice": false, "zero": false}, "axis": null}
      }
    },
    {
      "data": {"name": "topDates"},
      "mark": {"type": "point", "shape": "M-0.6,-1L0.6,-1L0,1Z", "size": 144, "filled": true, "opacity": 1, "color": "#f5a623"},
      "encoding": {
        "x": {"field": "i", "type": "quantitative", "scale": {"domain": [-0.5, 270.3], "nice": false, "zero": false}, "axis": null},
        "y": {"datum": 32153, "type": "quantitative", "scale": {"domain": [26200, 32098], "nice": false, "zero": false}, "axis": null}
      }
    },
    {
      "data": {"name": "topDates"},
      "mark": {"type": "text", "font": "Liberation Sans", "fontSize": 24, "color": "#303060", "align": "center", "baseline": "middle"},
      "encoding": {
        "x": {"field": "i", "type": "quantitative", "scale": {"domain": [-0.5, 270.3], "nice": false, "zero": false},
          "axis": {"orient": "top", "offset": 13, "tickCount": 136, "tickSize": -5, "labels": false,
            "domainColor": "#444444", "tickColor": "#444444", "grid": false, "title": null}},
        "y": {"datum": 32312, "type": "quantitative", "scale": {"domain": [26200, 32098], "nice": false, "zero": false}, "axis": null},
        "text": {"field": "label"}
      }
    },
    {
      "data": {"name": "bottomDates"},
      "mark": {"type": "text", "font": "Liberation Sans", "fontSize": 24, "color": "#303060", "align": "center", "baseline": "middle"},
      "encoding": {
        "x": {"field": "i", "type": "quantitative", "scale": {"domain": [-0.5, 270.3], "nice": false, "zero": false},
          "axis": {"orient": "bottom", "offset": 14, "values": [2.125, 6, 9.875, 13.75, 17.625, 21.5, 25.375, 29.25, 33.125, 37, 40.875, 44.75, 48.625, 52.5, 56.375, 60.25, 64.125, 68, 71.875, 75.75, 79.625, 83.5, 87.375, 91.25, 95.125, 99, 102.875, 106.75, 110.625, 114.5, 118.375, 122.25, 126.125, 130, 133.875, 137.75, 141.625, 145.5, 149.375, 153.25, 157.125, 161, 164.875, 168.75, 172.625, 176.5, 180.375, 184.25, 188.125, 192, 195.875, 199.75, 203.625, 207.5, 211.375, 215.25, 219.125, 223, 226.875, 230.75, 234.625, 238.5, 242.375, 246.25, 250.125, 254, 257.875, 261.75, 265.625, 269.5],
            "tickSize": -6, "labels": false, "domain": false, "tickColor": "#444444", "grid": false, "title": null}},
        "y": {"datum": 25879, "type": "quantitative", "scale": {"domain": [26200, 32098], "nice": false, "zero": false}, "axis": null},
        "text": {"field": "label"}
      }
    },
    {
      "data": {"name": "one"},
      "mark": {"type": "text", "text": "06/17/2026 20:00", "font": "Liberation Sans", "fontSize": 24, "color": "#303060", "align": "left", "baseline": "middle"},
      "encoding": {
        "x": {"datum": -0.95, "type": "quantitative", "scale": {"domain": [-0.5, 270.3], "nice": false, "zero": false}, "axis": null},
        "y": {"datum": 25879, "type": "quantitative", "scale": {"domain": [26200, 32098], "nice": false, "zero": false}, "axis": null}
      }
    }
  ],
  "resolve": {
    "scale": {"x": "independent", "y": "independent", "color": "independent"},
    "axis": {"x": "independent", "y": "independent"}
  },
  "config": {
    "view": {"stroke": null},
    "font": "Liberation Sans"
  }
}
